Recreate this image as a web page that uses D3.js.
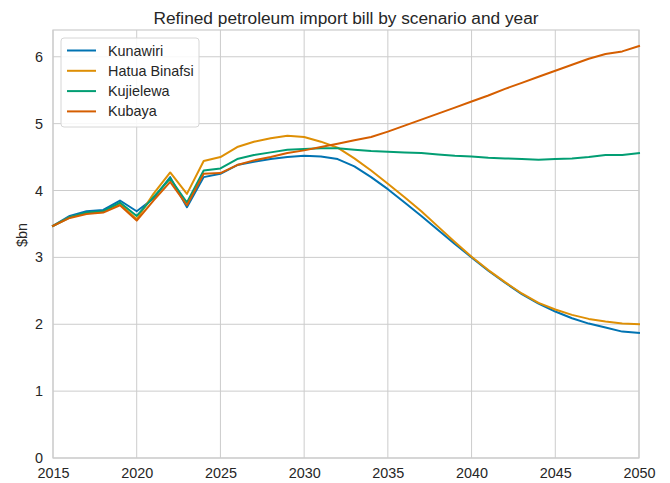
<!DOCTYPE html>
<html><head><meta charset="utf-8">
<script src="https://cdn.jsdelivr.net/npm/d3@7"></script>
<style>body{margin:0;background:#fff;} text{font-family:"Liberation Sans",Arial,sans-serif;}</style>
</head><body>
<svg id="c" width="670" height="483"></svg>
<script>
const years = d3.range(2015, 2051);
const kunawiri = [3.47,3.62,3.69,3.71,3.85,3.69,3.88,4.20,3.75,4.20,4.25,4.38,4.43,4.47,4.50,4.52,4.51,4.47,4.36,4.20,4.02,3.82,3.62,3.41,3.20,3.00,2.80,2.62,2.45,2.31,2.19,2.09,2.01,1.95,1.89,1.87];
const hatuaBinafsi = [3.47,3.60,3.66,3.68,3.80,3.57,3.95,4.27,3.95,4.44,4.50,4.65,4.73,4.78,4.82,4.80,4.73,4.64,4.48,4.30,4.10,3.90,3.69,3.46,3.23,3.01,2.81,2.63,2.46,2.32,2.22,2.14,2.08,2.04,2.01,2.00];
const kujielewa = [3.47,3.60,3.67,3.69,3.82,3.62,3.90,4.18,3.82,4.30,4.33,4.47,4.53,4.57,4.61,4.62,4.63,4.63,4.61,4.59,4.58,4.57,4.56,4.54,4.52,4.51,4.49,4.48,4.47,4.46,4.47,4.48,4.50,4.53,4.53,4.56];
const kubaya = [3.47,3.59,3.65,3.67,3.78,3.55,3.85,4.13,3.78,4.25,4.26,4.38,4.45,4.50,4.56,4.60,4.65,4.70,4.75,4.80,4.88,4.97,5.06,5.15,5.24,5.33,5.42,5.52,5.61,5.70,5.79,5.88,5.97,6.04,6.08,6.16];
const seriesNames = ["Kunawiri","Hatua Binafsi","Kujielewa","Kubaya"];
const seriesValues = [kunawiri, hatuaBinafsi, kujielewa, kubaya];
const colors = ["#0173b2","#de8f05","#029e73","#d55e00"];
const xTicks = [2015,2020,2025,2030,2035,2040,2045,2050];
const yTicks = [0,1,2,3,4,5,6];
const title = "Refined petroleum import bill by scenario and year";
const yLabel = "$bn";

const svg = d3.select("#c");
const m = {l:53, r:31, t:30, b:25};
const W = 670, H = 483;
const x = d3.scaleLinear().domain([2015,2050]).range([m.l, W-m.r]);
const y = d3.scaleLinear().domain([0,6.4]).range([H-m.b, m.t]);
const FS = 14.4;

// grid
svg.append("g").selectAll("line").data(xTicks).join("line")
  .attr("x1",d=>x(d)).attr("x2",d=>x(d)).attr("y1",m.t).attr("y2",H-m.b)
  .attr("stroke","#cccccc").attr("stroke-width",1);
svg.append("g").selectAll("line").data(yTicks).join("line")
  .attr("y1",d=>y(d)).attr("y2",d=>y(d)).attr("x1",m.l).attr("x2",W-m.r)
  .attr("stroke","#cccccc").attr("stroke-width",1);
// frame
svg.append("rect").attr("x",m.l).attr("y",m.t).attr("width",W-m.r-m.l).attr("height",H-m.b-m.t)
  .attr("fill","none").attr("stroke","#cccccc").attr("stroke-width",1.2);

// axes
const xAxis = svg.append("g").attr("transform",`translate(0,${H-m.b})`)
  .call(d3.axisBottom(x).tickValues(xTicks).tickFormat(d3.format("d")).tickSize(0).tickPadding(10));
const yAxis = svg.append("g").attr("transform",`translate(${m.l},0)`)
  .call(d3.axisLeft(y).tickValues(yTicks).tickFormat(d3.format("d")).tickSize(0).tickPadding(10));
[xAxis,yAxis].forEach(a=>{a.select(".domain").remove();
  a.selectAll("text").attr("font-size",FS).attr("fill","#262626").attr("font-family","Liberation Sans, Arial, sans-serif");});

// lines
const line = d3.line().x((d,i)=>x(years[i])).y(d=>y(d));
seriesValues.forEach((vals,k)=>{
  svg.append("path").datum(vals).attr("d",line).attr("fill","none")
    .attr("stroke",colors[k]).attr("stroke-width",2).attr("stroke-linejoin","round").attr("stroke-linecap","square");
});

// title & label
svg.append("text").attr("x",(m.l+W-m.r)/2).attr("y",24).attr("text-anchor","middle")
  .attr("font-size",17.3).attr("fill","#262626").text(title);
svg.append("text").attr("transform",`translate(27,235) rotate(-90)`).attr("text-anchor","middle")
  .attr("font-size",FS).attr("fill","#262626").text(yLabel);

// legend
const lg = svg.append("g").attr("transform","translate(61,38)");
lg.append("rect").attr("width",138).attr("height",89).attr("rx",3).attr("fill","#fff").attr("fill-opacity",0.85)
  .attr("stroke","#d6d6d6").attr("stroke-width",1);
seriesNames.forEach((n,k)=>{
  const yy = 12.5 + k*20.3;
  lg.append("line").attr("x1",6).attr("x2",35).attr("y1",yy).attr("y2",yy).attr("stroke",colors[k]).attr("stroke-width",2);
  lg.append("text").attr("x",47).attr("y",yy+5).attr("font-size",FS).attr("fill","#262626").text(n);
});
</script>
</body></html>
